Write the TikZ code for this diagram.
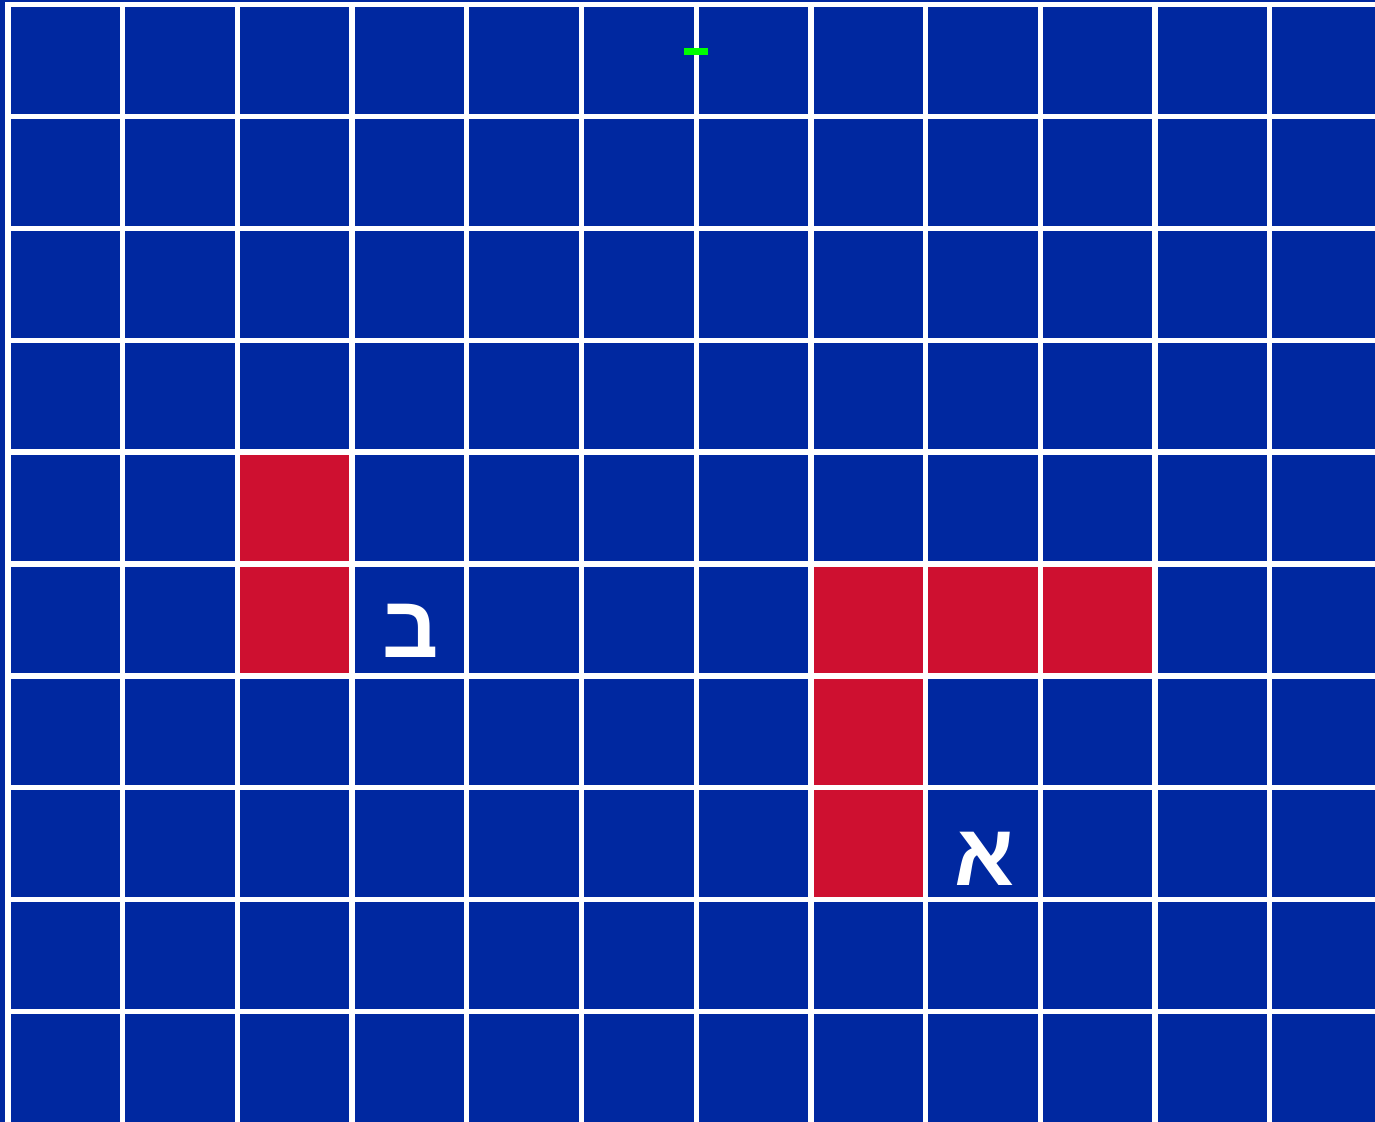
\documentclass[tikz,border=0pt]{standalone}
\usepackage{fontspec}
\usepackage{tikz}
\usetikzlibrary{positioning}
\TeXXeTstate=1
\newfontfamily\hebfont[Script=Hebrew, BoldFont={Liberation Sans Bold}]{Liberation Sans}
\definecolor{boardblue}{RGB}{0,40,160}
\definecolor{shipred}{RGB}{206,16,48}
\definecolor{markgreen}{RGB}{0,255,0}
\tikzset{
  gridline/.style={draw=white, line width=2.65pt},
  hitcell/.style={fill=shipred},
  letterlbl/.style={text=white, inner sep=0pt, anchor=base,
    font=\hebfont\bfseries\fontsize{44}{44}\selectfont}
}

\begin{document}
\begin{tikzpicture}[x=0.5pt, y=-0.5pt]
  % Background
  \fill[boardblue] (0,0) rectangle (1375,1122);
  \useasboundingbox (0,0) rectangle (1375,1122);

  % Red cells
  \foreach \c/\r in {2/4, 2/5, 7/5, 8/5, 9/5, 7/6, 7/7}
    \fill[hitcell] (8+114.7*\c,4.5+111.9*\r) rectangle (8+114.7*\c+114.7,4.5+111.9*\r+111.9);

  % Grid lines
  \foreach \c in {0,...,11}
    \draw[gridline] (8+114.7*\c,2) -- (8+114.7*\c,1122);
  \foreach \r in {0,...,9}
    \draw[gridline] (5.4,4.5+111.9*\r) -- (1375,4.5+111.9*\r);

  % Marker
  \fill[markgreen] (684,48) rectangle (708,55);

  % Labels
  \node[letterlbl] (bet) at (411,657) {\beginR ב\endR};
  \node[letterlbl] (alef) at (984,885) {\beginR א\endR};
\end{tikzpicture}
\end{document}
